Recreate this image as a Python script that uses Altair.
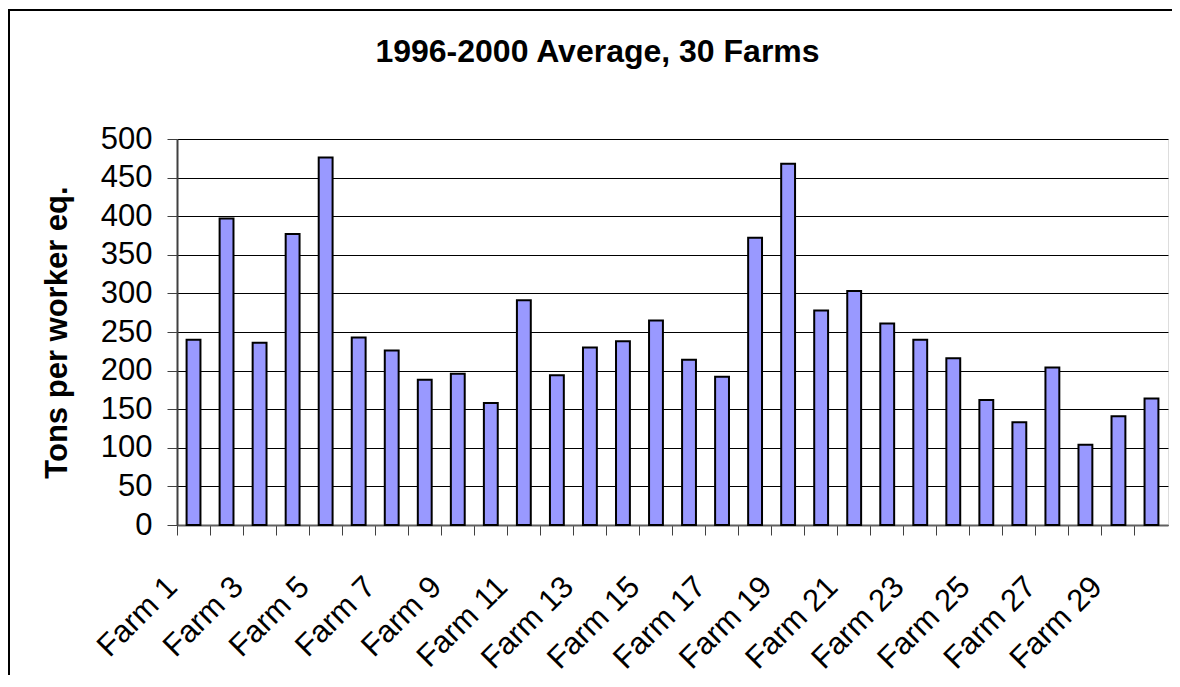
import altair as alt
import pandas as pd

farms = [f"Farm {i}" for i in range(1, 31)]
tons = [240, 397, 236, 377, 476, 243, 226, 188, 196, 158,
        291, 194, 230, 238, 265, 214, 192, 372, 468, 278,
        303, 261, 240, 216, 162, 133, 204, 104, 141, 164]

title_text = "1996-2000 Average, 30 Farms"
y_title = "Tons per worker eq."

df = pd.DataFrame({"farm": farms, "tons": tons})

FONT = "Liberation Sans"

bars = alt.Chart(df).mark_bar(
    width={"band": 0.42}, fill="#9999FF", stroke="black", strokeWidth=2
).encode(
    x=alt.X("farm:N", sort=farms,
            scale=alt.Scale(paddingInner=0, paddingOuter=0),
            axis=alt.Axis(title=None, bandPosition=0, labelAngle=-45,
                          labelAlign="right", labelBaseline="middle",
                          labelFontSize=31, labelFont=FONT, labelColor="black",
                          labelPadding=47, labelOffset=-21,
                          labelExpr="toNumber(split(datum.value, ' ')[1]) % 2 == 1 ? datum.label : ''",
                          tickSize=10, tickColor="#404040", tickWidth=1,
                          domainColor="#606060", domainWidth=2, grid=False,
                          labelOverlap=False)),
    y=alt.Y("tons:Q", scale=alt.Scale(domain=[0, 500]),
            axis=alt.Axis(title=y_title, values=list(range(0, 501, 50)),
                          titleFont=FONT, titleFontSize=31, titleFontWeight="bold",
                          titleColor="black", titleX=-120, titleBaseline="middle",
                          labelFont=FONT, labelFontSize=31, labelColor="black",
                          labelPadding=15, tickSize=10, tickColor="#404040",
                          domainColor="#404040", domainWidth=2,
                          grid=True, gridColor="#000000", gridWidth=1)),
)

frame = alt.Chart(pd.DataFrame({"a": [0]})).mark_rect(
    filled=False, stroke="black", strokeWidth=2
).encode(
    x=alt.value(-168), x2=alt.value(1200),
    y=alt.value(-129), y2=alt.value(700),
)

chart = alt.layer(frame, bars).properties(
    width=991, height=386,
    title=alt.TitleParams(title_text, font=FONT, fontSize=32, fontWeight="bold",
                          color="black", anchor="middle", dx=-75, offset=-85,
                          baseline="alphabetic"),
    autosize=alt.AutoSizeParams(type="none"),
    padding={"left": 169, "top": 131, "right": 4, "bottom": 150},
).configure_view(
    stroke="#808080", strokeWidth=2
).configure(background="white")

chart.save("out.html", embed_options={"renderer": "svg", "actions": False})
